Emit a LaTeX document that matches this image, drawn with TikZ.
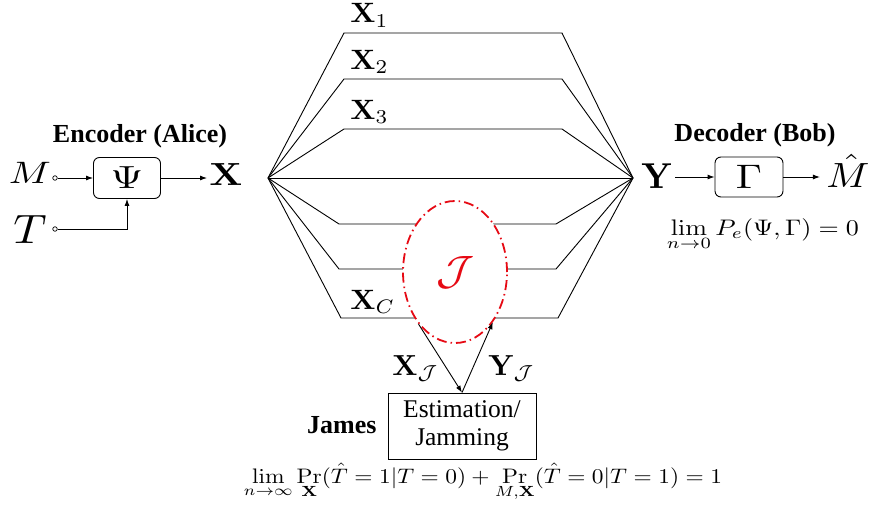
\documentclass[tikz,border=0pt]{standalone}
\usepackage[no-math]{fontspec}
\newfontfamily\tms{Liberation Serif}
\usetikzlibrary{arrows.meta,shapes.geometric}
\definecolor{jred}{RGB}{230,10,20}
\newcommand{\fs}[1]{\fontsize{#1}{#1}\selectfont}
\newcommand{\mscale}[3]{\scalebox{#1}[#2]{$\displaystyle #3$}}
\begin{document}
\begin{tikzpicture}[x=1pt,y=-1pt,line width=0.9pt,
    blk/.style={draw,rounded corners=6pt,minimum width=67pt,minimum height=41pt,inner sep=0pt},
    arr/.style={-{Latex[length=7pt,width=5pt]}},
    tx/.style={inner sep=2pt,anchor=base},
    lbl/.style={inner sep=0pt,anchor=base west},
    ttl/.style={inner sep=0pt,anchor=base,font=\tms\bfseries\fs{26}},
    port/.style={circle,draw,fill=white,inner sep=0pt,minimum size=4.5pt,line width=0.7pt}]
\useasboundingbox (0,0) rectangle (873,514);

% encoder
\node[ttl] (enc) at (140,142) {Encoder (Alice)};
\node[tx] (m) at (30,183) {\mscale{3.9}{3.1}{M}};
\node[tx] (t) at (30,243) {\mscale{4.6}{4.1}{T}};
\node[port] (mc) at (55,178) {};
\node[port] (tc) at (55,229) {};
\node[blk] (psi) at (127,178) {\mscale{4.2}{3.2}{\Psi}};
\node[tx] (x) at (226,185) {\mscale{3.8}{3.2}{\mathbf{X}}};
\draw[arr] (mc) -- (psi.west);
\draw[arr] (tc) -| (psi.south);
\draw[arr] (psi.east) -- (psi.east -| x.west);

% channels
\coordinate (l) at (268,178);
\coordinate (r) at (633,178);
\foreach \i/\yy/\xa/\xb in {1/33/344/562,2/79/344/562,3/129/344/562,5/224/339/556,6/269/339/556,7/318/341/558}
  \draw (l) -- (\xa,\yy) coordinate (p\i) -- (\xb,\yy) -- (r);
\draw (l) -- (r);
\node[lbl] (x1) at (350,23) {\mscale{2.9}{2.8}{\mathbf{X}_1}};
\node[lbl] (x2) at (350,69) {\mscale{2.9}{2.8}{\mathbf{X}_2}};
\node[lbl] (x3) at (350,119) {\mscale{2.9}{2.8}{\mathbf{X}_3}};
\node[lbl] (xc) at (350,309) {\mscale{2.9}{2.8}{\mathbf{X}_C}};

% james
\node[ellipse,draw=jred,fill=white,line width=1.8pt,dash pattern=on 10pt off 4pt on 1.5pt off 4pt,
  minimum width=104pt,minimum height=142pt,inner sep=0pt,text=jred] (jam) at (455,272) {\mscale{4.4}{4.1}{\mathcal{J}}};
\node[draw,minimum width=148pt,minimum height=66pt,inner sep=0pt,align=center,font=\tms\fs{25.5}] (est) at (462,426) {Estimation/\\[3pt]Jamming};
\node[ttl,anchor=base east] (james) at (377,433) {James};
\draw[arr] (jam.-125) -- (est.north);
\draw[arr] (est.north) -- (jam.-53);
\node[lbl] (xj) at (392,375) {\mscale{2.9}{2.9}{\mathbf{X}_{\mathcal{J}}}};
\node[lbl] (yj) at (488,375) {\mscale{2.9}{2.9}{\mathbf{Y}_{\mathcal{J}}}};
\node[tx] (cond) at (483,483) {\mscale{2.34}{2.1}{\lim_{n\to\infty}\Pr_{\mathbf{X}}(\hat{T}=1|T=0)+\Pr_{M,\mathbf{X}}(\hat{T}=0|T=1)=1}};

% decoder
\node[ttl] (dec) at (755,141) {Decoder (Bob)};
\node[tx] (y) at (657,188) {\mscale{3.5}{3.6}{\mathbf{Y}}};
\node[blk,minimum width=68pt,minimum height=40pt] (gam) at (749,177) {\mscale{4.2}{3.4}{\Gamma}};
\node[tx,inner sep=0pt] (mh) at (848,187) {\mscale{4.0}{3.5}{\hat{M}}};
\draw[arr] (gam.west -| y.east) -- (gam.west);
\draw[arr,shorten >=6pt] (gam.east) -- (gam.east -| mh.west);
\node[tx] (pe) at (763,235) {\mscale{2.6}{2.25}{\lim_{n\to 0}P_e(\Psi,\Gamma)=0}};
\end{tikzpicture}
\end{document}
